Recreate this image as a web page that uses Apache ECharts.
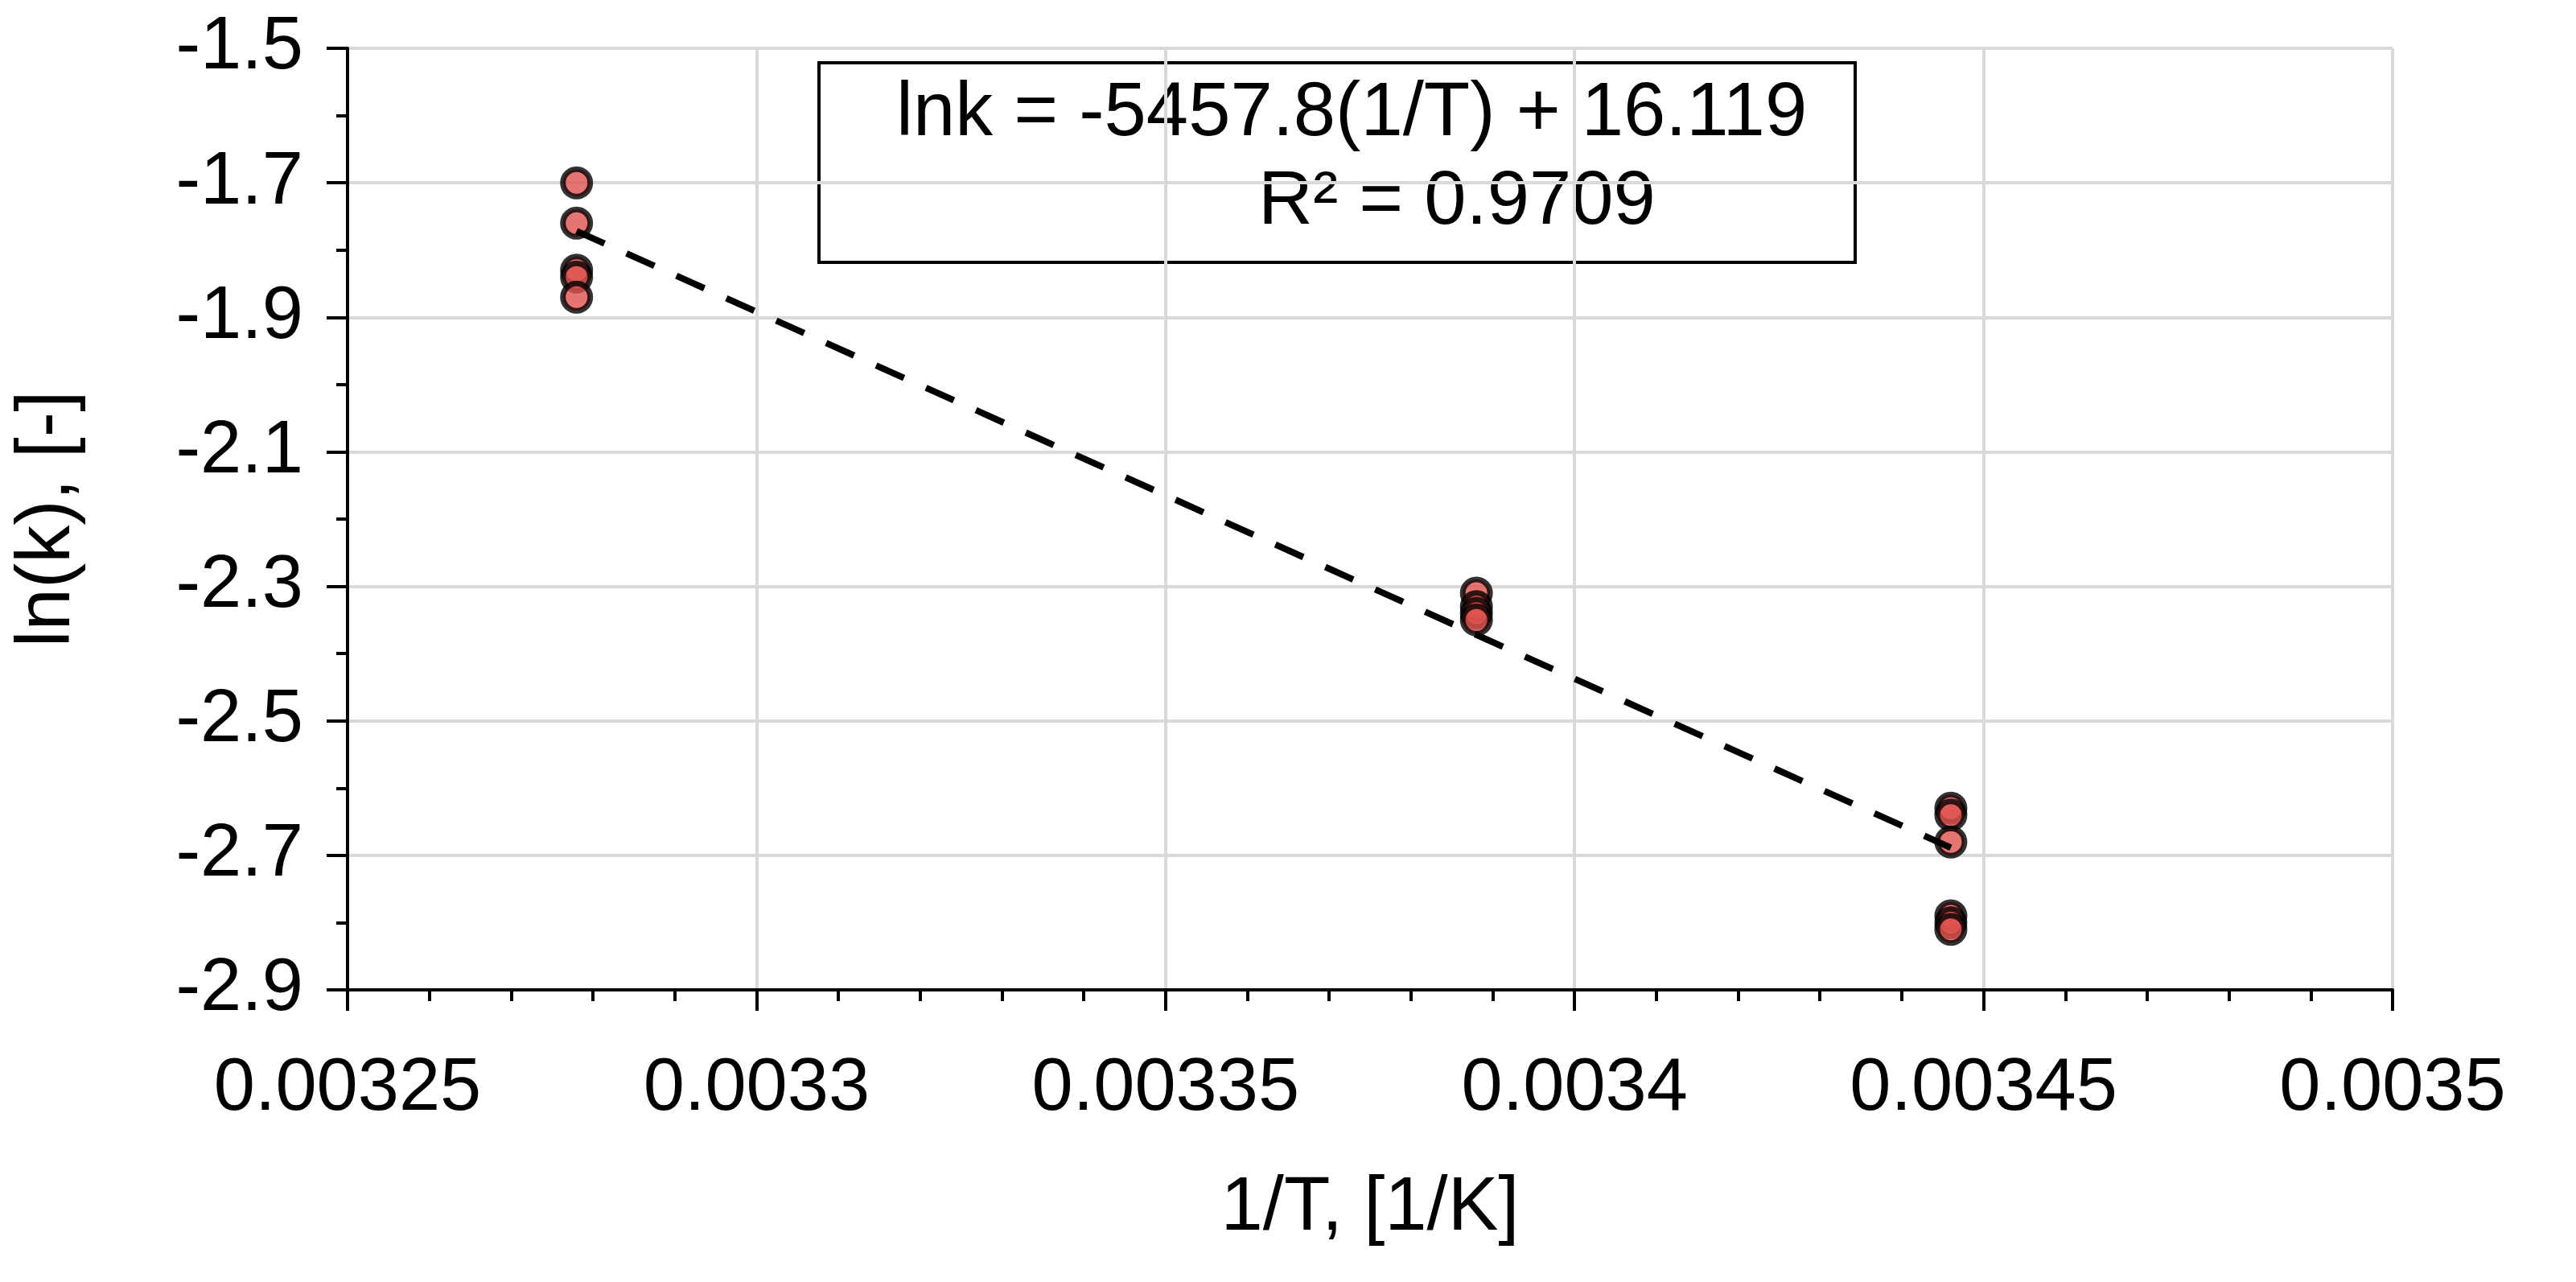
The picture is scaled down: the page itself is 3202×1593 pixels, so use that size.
<!DOCTYPE html>
<html>
<head>
	<meta charset="utf-8">
	<title>ln(k) vs 1/T</title>
	<script src="https://cdn.jsdelivr.net/npm/echarts@6/dist/echarts.min.js"></script>
	<style>html,body{margin:0;background:#fff}</style>
</head>
<body>
	<div id="chart" style="width:3202px;height:1593px;"></div>
	<script>
		var invT = [0.003278, 0.003278, 0.003278, 0.003278, 0.003278,
			0.003388, 0.003388, 0.003388, 0.003388,
			0.003446, 0.003446, 0.003446, 0.003446, 0.003446, 0.003446];
		var lnK = [-1.70, -1.76, -1.83, -1.84, -1.87,
			-2.31, -2.33, -2.34, -2.35,
			-2.63, -2.64, -2.68, -2.79, -2.80, -2.81];
		var slope = -5457.8, intercept = 16.119;
		var fitX = [0.003278, 0.003446];

		var points = invT.map(function (x, i) { return [x, lnK[i]]; });
		var fit = fitX.map(function (x) { return [x, slope * x + intercept]; });
		var font = 'Arial, "Liberation Sans", sans-serif';

		var chart = echarts.init(document.getElementById('chart'));
		chart.setOption({
			animation: false,
			grid: { left: 432, right: 228, top: 60, bottom: 363 },
			xAxis: {
				type: 'value', min: 0.00325, max: 0.0035, interval: 0.00005,
				name: '1/T, [1/K]', nameLocation: 'middle', nameGap: 225,
				nameTextStyle: { fontSize: 94, fontFamily: font, color: '#000' },
				axisLine: { onZero: false, lineStyle: { color: '#000', width: 4 } },
				axisTick: { length: 26, lineStyle: { color: '#000', width: 4 } },
				minorTick: { show: true, splitNumber: 5, length: 14, lineStyle: { color: '#000', width: 4 } },
				splitLine: { show: true, lineStyle: { color: '#d9d9d9', width: 4 } },
				axisLabel: { fontSize: 92, fontFamily: font, color: '#000', margin: 78,
					formatter: function (v) { return String(+v.toFixed(5)); } }
			},
			yAxis: {
				type: 'value', min: -2.9, max: -1.5, interval: 0.2,
				name: 'ln(k), [-]', nameLocation: 'middle', nameGap: 325,
				nameTextStyle: { fontSize: 94, fontFamily: font, color: '#000' },
				axisLine: { onZero: false, lineStyle: { color: '#000', width: 4 } },
				axisTick: { length: 26, lineStyle: { color: '#000', width: 4 } },
				minorTick: { show: true, splitNumber: 2, length: 14, lineStyle: { color: '#000', width: 4 } },
				splitLine: { show: true, lineStyle: { color: '#d9d9d9', width: 4 } },
				axisLabel: { fontSize: 92, fontFamily: font, color: '#000', margin: 55,
					formatter: function (v) { return v.toFixed(1); } }
			},
			series: [{
				type: 'line', data: fit, symbol: 'none', z: 3,
				lineStyle: { color: '#000', width: 8, type: [38, 30] }
			}, {
				type: 'scatter', data: points, symbolSize: 34, z: 2,
				itemStyle: { color: '#e0524e', borderColor: '#000', borderWidth: 7 }
			}],
			graphic: [{
				type: 'rect', left: 1016, top: 76,
				shape: { width: 1288, height: 248 },
				style: { fill: '#fff', stroke: '#000', lineWidth: 4 }
			}, {
				type: 'text', left: 1114, top: 95,
				style: { text: 'lnk = -5457.8(1/T) + 16.119', fontSize: 94, fontFamily: font, fill: '#000' }
			}, {
				type: 'text', left: 1564, top: 205,
				style: { text: 'R² = 0.9709', fontSize: 94, fontFamily: font, fill: '#000' }
			}]
		});
	</script>
</body>
</html>
